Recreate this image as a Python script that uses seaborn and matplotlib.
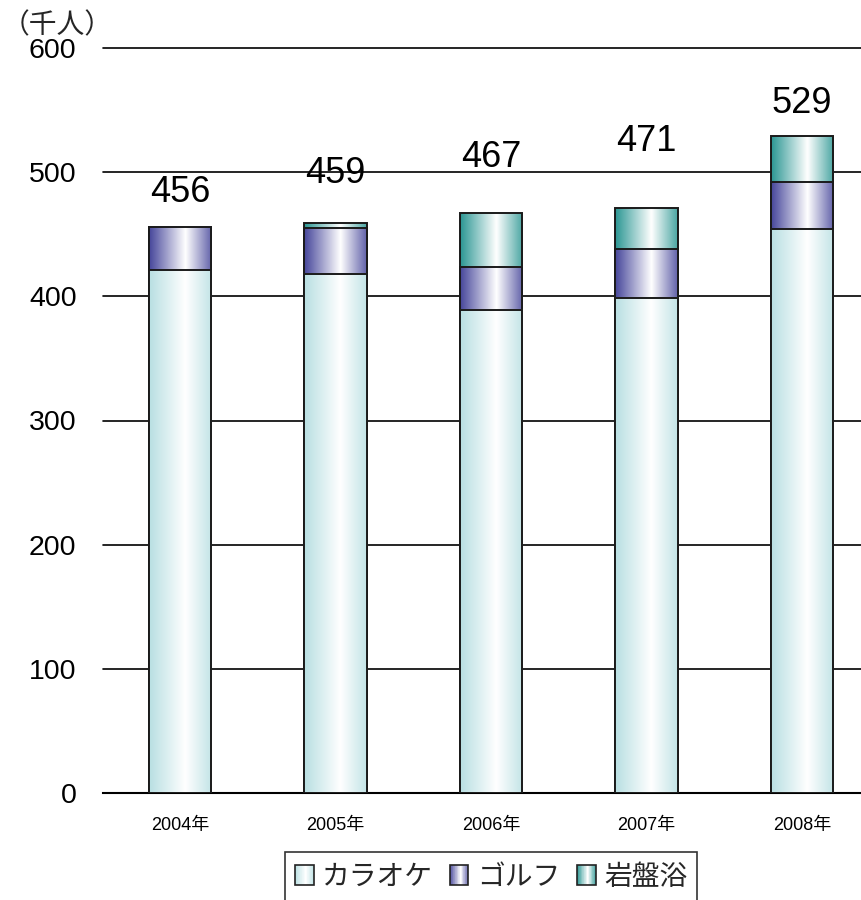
import numpy as np
import pandas as pd
import matplotlib
matplotlib.use("Agg")
import matplotlib.pyplot as plt
import seaborn as sns
from matplotlib.colors import LinearSegmentedColormap, to_rgb
from matplotlib.legend_handler import HandlerBase
from matplotlib.patches import Rectangle

# --- data (thousand people) ---
years = ["2004年", "2005年", "2006年", "2007年", "2008年"]
karaoke = [421, 418, 389, 399, 454]
golf = [35, 37, 35, 39, 38]
ganbanyoku = [0, 4, 43, 33, 37]
totals = [456, 459, 467, 471, 529]
series_names = ["カラオケ", "ゴルフ", "岩盤浴"]
y_ticks = [0, 100, 200, 300, 400, 500, 600]

# vertical lift of each total label above its bar (data units)
label_lift = [28, 40, 45, 54, 26]

edge_colors = {"カラオケ": "#b8dfe2", "ゴルフ": "#45459a", "岩盤浴": "#2a9692"}


def shade_cmap(color):
    c = np.array(to_rgb(color))
    light = c + (1 - c) * 0.15
    return LinearSegmentedColormap.from_list(
        "shade", [(0.0, c), (0.58, (1, 1, 1)), (1.0, light)]
    )


sns.set_theme(style="white")
plt.rcParams["font.family"] = ["Liberation Sans", "Noto Sans CJK JP"]

fig = plt.figure(figsize=(8.62, 9.0), dpi=100)
ax = fig.add_axes([103 / 862, 1 - 793 / 900, 1 - 103 / 862, (793 - 48) / 900])

df = pd.DataFrame({"year": years, "カラオケ": karaoke, "ゴルフ": golf, "岩盤浴": ganbanyoku})
cum = df[series_names].cumsum(axis=1)
cum["year"] = years

# stacked bars: draw cumulative heights, tallest first, lower segments on top
grad = np.linspace(0, 1, 256).reshape(1, -1)
for k, name in enumerate(reversed(series_names)):
    n_before = len(ax.patches)
    sns.barplot(data=cum, x="year", y=name, ax=ax, width=0.4, color="white",
                edgecolor="#1a1a1a", linewidth=1.4, errorbar=None,
                zorder=3 + 2 * k)
    cmap = shade_cmap(edge_colors[name])
    for p in ax.patches[n_before:]:
        p.set_facecolor("none")
        x0, w, h = p.get_x(), p.get_width(), p.get_height()
        ax.imshow(grad, cmap=cmap, extent=[x0, x0 + w, 0, h], aspect="auto",
                  interpolation="bilinear", zorder=2.5 + 2 * k)

# total labels
for i, t in enumerate(totals):
    ax.text(i, t + label_lift[i], str(t), ha="center", va="center",
            fontsize=26, color="black", zorder=20)

ax.set_xlim(-0.495, 4.386)
ax.set_ylim(0, 600)
ax.set_yticks(y_ticks)
ax.set_axisbelow(True)
ax.yaxis.grid(True, color="black", linewidth=1.2)
ax.xaxis.grid(False)
for line in ax.get_ygridlines():
    line.set_clip_on(False)
for s in ["left", "right", "top"]:
    ax.spines[s].set_visible(False)
ax.spines["bottom"].set_color("black")
ax.spines["bottom"].set_linewidth(1.5)
ax.set_xlabel("")
ax.set_ylabel("")
ax.tick_params(axis="y", length=0, labelsize=20.5, pad=19, colors="black")
ax.tick_params(axis="x", length=0, labelsize=13, pad=17, colors="black")

fig.text(57 / 862, 1 - 25 / 900, "（千人）", fontsize=20, ha="center", va="center",
         family=["Noto Sans CJK JP"])


class GradientHandler(HandlerBase):
    def __init__(self, color):
        super().__init__()
        self.cmap = shade_cmap(color)

    def create_artists(self, legend, orig_handle, xdescent, ydescent, width,
                       height, fontsize, trans):
        n = 30
        arts = []
        for j in range(n):
            arts.append(Rectangle((-xdescent + width * j / n, -ydescent), width / n,
                                  height, facecolor=self.cmap((j + 0.5) / n),
                                  edgecolor="none", transform=trans))
        arts.append(Rectangle((-xdescent, -ydescent), width, height,
                              facecolor="none", edgecolor="#222222", lw=1.2,
                              transform=trans))
        return arts


handles = [Rectangle((0, 0), 1, 1) for _ in series_names]
hmap = {h: GradientHandler(edge_colors[n]) for h, n in zip(handles, series_names)}
leg = fig.legend(handles, series_names, handler_map=hmap, ncol=3,
                 loc="upper left", bbox_to_anchor=(285 / 862, 1 - 852 / 900),
                 bbox_transform=fig.transFigure, fontsize=20, frameon=True,
                 fancybox=False, edgecolor="black", handlelength=0.68,
                 handleheight=0.75, handletextpad=0.3, columnspacing=0.6,
                 borderpad=0.35, borderaxespad=0)
leg.get_frame().set_linewidth(1.2)
for t in leg.get_texts():
    t.set_family(["Noto Sans CJK JP"])

fig.savefig("out.png", dpi=100)
